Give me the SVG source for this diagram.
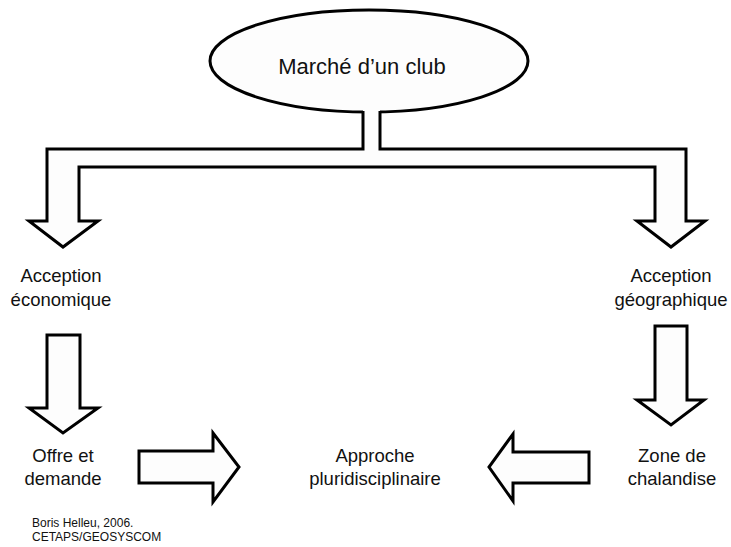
<svg xmlns="http://www.w3.org/2000/svg" width="731" height="547" viewBox="0 0 731 547">
<style>
.bg{fill:#ffffff}
.shape{fill:#fdfdfd;stroke:#000;stroke-width:3;stroke-linejoin:miter}
.fillonly{fill:#fdfdfd;stroke:none}
.line{fill:none;stroke:#000;stroke-width:3;stroke-linejoin:miter}
text{font-family:"Liberation Sans",Arial,sans-serif;fill:#111;text-anchor:middle}
.lbl{font-size:18.5px}
.title{font-size:22px}
.credit{font-size:12px;text-anchor:start}
</style>
<rect class="bg" x="0" y="0" width="731" height="547"/>
<g id="node-marche">
<ellipse class="shape" cx="369" cy="61" rx="159" ry="51"/>
<text class="title" x="362" y="74">Marché d’un club</text>
</g>
<g id="connectors">
<g id="split-arrow">
<polygon class="fillonly" points="363,100 363,149 47,149 47,221 29,221 63,247 98,221 79,221 79,167 655,167 655,221 637,221 671,247 705,221 686,221 686,149 380,149 380,100"/>
<polyline class="line" points="363,111 363,149 47,149 47,221 29,221 63,247 98,221 79,221 79,167 655,167 655,221 637,221 671,247 705,221 686,221 686,149 380,149 380,111"/>
</g>
<polygon id="arrow-eco-down" class="shape" points="47,335 80,335 80,408 98,408 63,433 29,408 47,408"/>
<polygon id="arrow-geo-down" class="shape" points="655,326 687,326 687,400 704,400 671,425 637,400 655,400"/>
<polygon id="arrow-right" class="shape" points="139,451 213,451 213,433 239,467 213,502 213,483 139,483"/>
<polygon id="arrow-left" class="shape" points="589,452 513,452 513,434 489,467 513,501 513,483 589,483"/>
</g>
<g id="node-eco">
<text class="lbl" x="61" y="282">Acception</text>
<text class="lbl" x="61" y="306">économique</text>
</g>
<g id="node-geo">
<text class="lbl" x="671" y="282">Acception</text>
<text class="lbl" x="671" y="306">géographique</text>
</g>
<g id="node-offre">
<text class="lbl" x="63" y="462">Offre et</text>
<text class="lbl" x="63" y="485">demande</text>
</g>
<g id="node-approche">
<text class="lbl" x="375" y="462">Approche</text>
<text class="lbl" x="375" y="485">pluridisciplinaire</text>
</g>
<g id="node-zone">
<text class="lbl" x="672" y="462">Zone de</text>
<text class="lbl" x="672" y="485">chalandise</text>
</g>
<g id="credit">
<text class="credit" x="32" y="527">Boris Helleu, 2006.</text>
<text class="credit" x="32" y="541">CETAPS/GEOSYSCOM</text>
</g>
</svg>
